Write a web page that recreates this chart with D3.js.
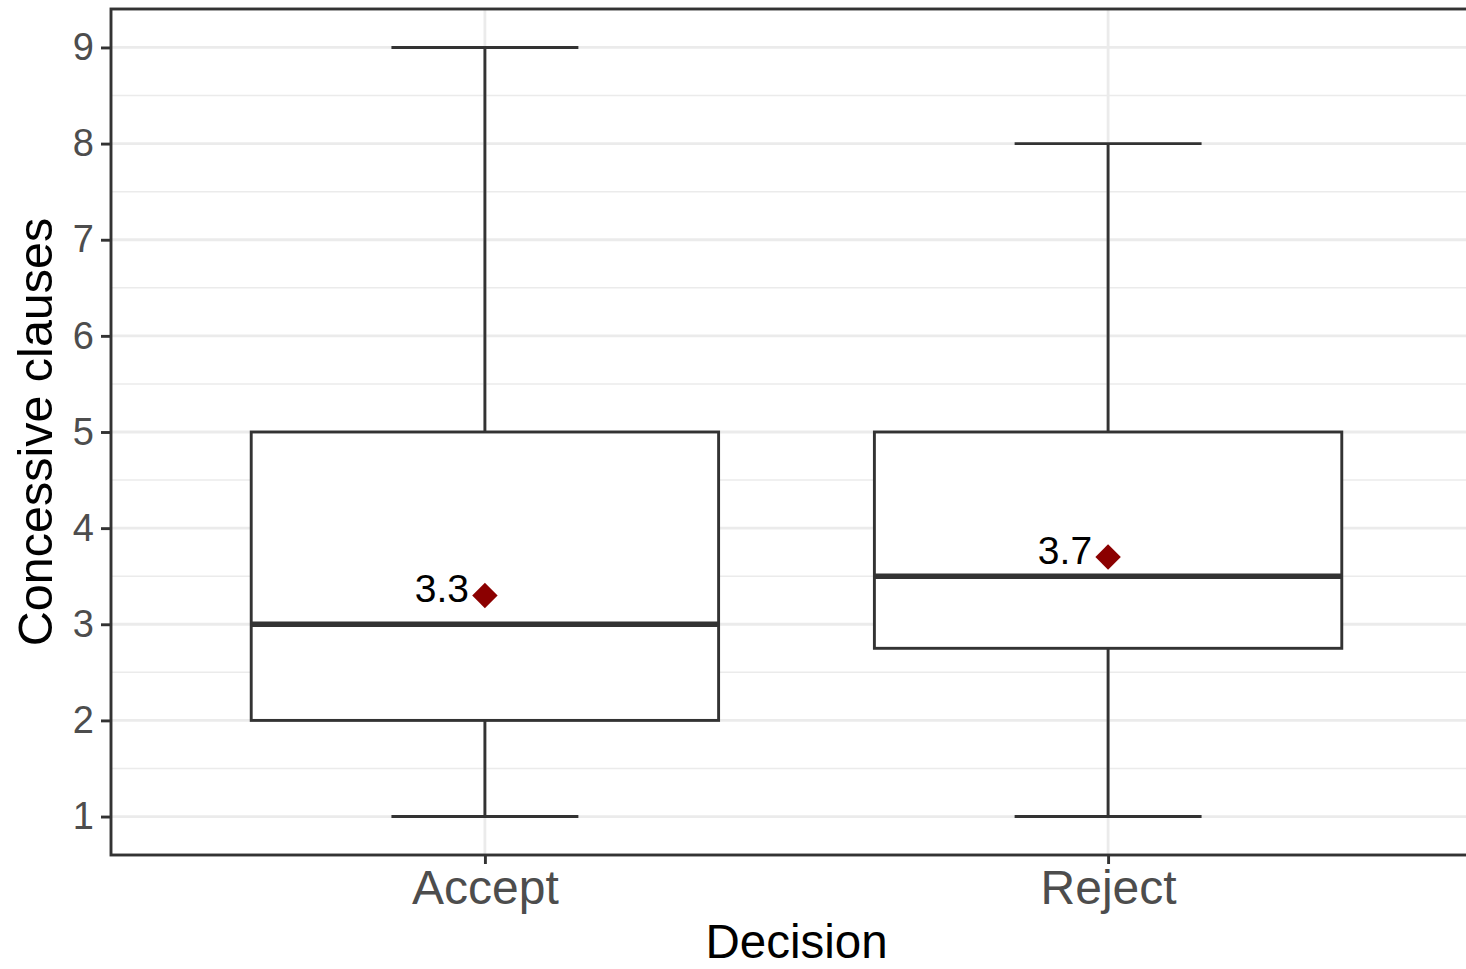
<!DOCTYPE html>
<html>
<head>
<meta charset="utf-8">
<script src="https://cdn.jsdelivr.net/npm/d3@7"></script>
<style>
  body { margin: 0; background: #fff; }
  text { font-family: "Liberation Sans", Arial, sans-serif; }
</style>
</head>
<body>
<svg id="drawing_region"></svg>
<script>
const decisions = ["Accept", "Reject"];
const lowerWhisker = [1, 1];
const q1 = [2, 2.75];
const medians = [3, 3.5];
const q3 = [5, 5];
const upperWhisker = [9, 8];
const means = [3.3, 3.7];
const yTicks = [1, 2, 3, 4, 5, 6, 7, 8, 9];
const yMinor = [1.5, 2.5, 3.5, 4.5, 5.5, 6.5, 7.5, 8.5];

const data = decisions.map((d, i) => ({
  name: d, lo: lowerWhisker[i], q1: q1[i], med: medians[i],
  q3: q3[i], hi: upperWhisker[i], mean: means[i]
}));

const config = {
  width: 1466,
  height: 969,
  margin: {top: 9, right: -16, bottom: 114, left: 111}
};

const svg = d3.select('#drawing_region')
  .attr('width', config.width)
  .attr('height', config.height);

const chart_width = config.width - config.margin.left - config.margin.right;
const chart_height = config.height - config.margin.top - config.margin.bottom;

const chart = svg.append('g')
  .attr('transform', `translate(${config.margin.left}, ${config.margin.top})`);

// discrete axis like ggplot: 0.6 expansion on each side
const x_scale = d3.scalePoint()
  .domain(decisions)
  .range([0, chart_width])
  .padding(0.6);
const step = x_scale.step();

const y_scale = d3.scaleLinear()
  .domain([0.6, 9.4])
  .range([chart_height, 0]);

// grid
chart.append('g').selectAll('line.minor')
  .data(yMinor).enter().append('line')
  .attr('x1', 0).attr('x2', chart_width)
  .attr('y1', d => y_scale(d)).attr('y2', d => y_scale(d))
  .attr('stroke', '#ebebeb').attr('stroke-width', 1.5);

chart.append('g').selectAll('line.major')
  .data(yTicks).enter().append('line')
  .attr('x1', 0).attr('x2', chart_width)
  .attr('y1', d => y_scale(d)).attr('y2', d => y_scale(d))
  .attr('stroke', '#ebebeb').attr('stroke-width', 2.8);

chart.append('g').selectAll('line.vmajor')
  .data(decisions).enter().append('line')
  .attr('x1', d => x_scale(d)).attr('x2', d => x_scale(d))
  .attr('y1', 0).attr('y2', chart_height)
  .attr('stroke', '#ebebeb').attr('stroke-width', 2.8);

// boxplots
const boxW = step * 0.75;
const capW = step * 0.3;
const col = '#333333';
const lw = 2.9;
const boxes = chart.selectAll('g.box')
  .data(data).enter().append('g');

boxes.append('line')
  .attr('x1', d => x_scale(d.name)).attr('x2', d => x_scale(d.name))
  .attr('y1', d => y_scale(d.q3)).attr('y2', d => y_scale(d.hi))
  .attr('stroke', col).attr('stroke-width', lw);
boxes.append('line')
  .attr('x1', d => x_scale(d.name)).attr('x2', d => x_scale(d.name))
  .attr('y1', d => y_scale(d.q1)).attr('y2', d => y_scale(d.lo))
  .attr('stroke', col).attr('stroke-width', lw);
boxes.append('line')
  .attr('x1', d => x_scale(d.name) - capW / 2).attr('x2', d => x_scale(d.name) + capW / 2)
  .attr('y1', d => y_scale(d.hi)).attr('y2', d => y_scale(d.hi))
  .attr('stroke', col).attr('stroke-width', lw);
boxes.append('line')
  .attr('x1', d => x_scale(d.name) - capW / 2).attr('x2', d => x_scale(d.name) + capW / 2)
  .attr('y1', d => y_scale(d.lo)).attr('y2', d => y_scale(d.lo))
  .attr('stroke', col).attr('stroke-width', lw);
boxes.append('rect')
  .attr('x', d => x_scale(d.name) - boxW / 2)
  .attr('width', boxW)
  .attr('y', d => y_scale(d.q3))
  .attr('height', d => y_scale(d.q1) - y_scale(d.q3))
  .attr('fill', '#fff')
  .attr('stroke', col).attr('stroke-width', lw);
boxes.append('line')
  .attr('x1', d => x_scale(d.name) - boxW / 2).attr('x2', d => x_scale(d.name) + boxW / 2)
  .attr('y1', d => y_scale(d.med)).attr('y2', d => y_scale(d.med))
  .attr('stroke', col).attr('stroke-width', 5.5);

// means
boxes.append('path')
  .attr('d', d3.symbol().type(d3.symbolSquare).size(18 * 18))
  .attr('transform', d => `translate(${x_scale(d.name)}, ${y_scale(d.mean)}) rotate(45)`)
  .attr('fill', '#8b0000');
boxes.append('text')
  .attr('x', d => x_scale(d.name) - 16)
  .attr('y', d => y_scale(d.mean) + 7)
  .attr('text-anchor', 'end')
  .attr('font-size', 39)
  .attr('fill', '#000')
  .text(d => d.mean.toFixed(1));

// panel border
chart.append('rect')
  .attr('x', 0).attr('y', 0)
  .attr('width', chart_width).attr('height', chart_height)
  .attr('fill', 'none')
  .attr('stroke', col).attr('stroke-width', lw);

// axes
const y_axis = d3.axisLeft(y_scale).tickValues(yTicks).tickSize(10).tickPadding(7).tickSizeOuter(0);
const x_axis = d3.axisBottom(x_scale).tickSize(9).tickPadding(6).tickSizeOuter(0);

const yg = chart.append('g').call(y_axis);
const xg = chart.append('g').attr('transform', `translate(0, ${chart_height})`).call(x_axis);

[yg, xg].forEach(g => {
  g.select('.domain').remove();
  g.selectAll('.tick line').attr('stroke', col).attr('stroke-width', lw);
  g.selectAll('.tick text')
    .attr('fill', '#4d4d4d')
    .style('font-family', '"Liberation Sans", Arial, sans-serif');
});
yg.selectAll('.tick text').attr('font-size', 38);
xg.selectAll('.tick text').attr('font-size', 48);

// titles
svg.append('text')
  .attr('x', config.margin.left + chart_width / 2)
  .attr('y', 958)
  .attr('text-anchor', 'middle')
  .attr('font-size', 47.5)
  .attr('fill', '#000')
  .text('Decision');

svg.append('text')
  .attr('transform', `translate(52, ${config.margin.top + chart_height / 2}) rotate(-90)`)
  .attr('text-anchor', 'middle')
  .attr('font-size', 48.5)
  .attr('fill', '#000')
  .text('Concessive clauses');
</script>
</body>
</html>
